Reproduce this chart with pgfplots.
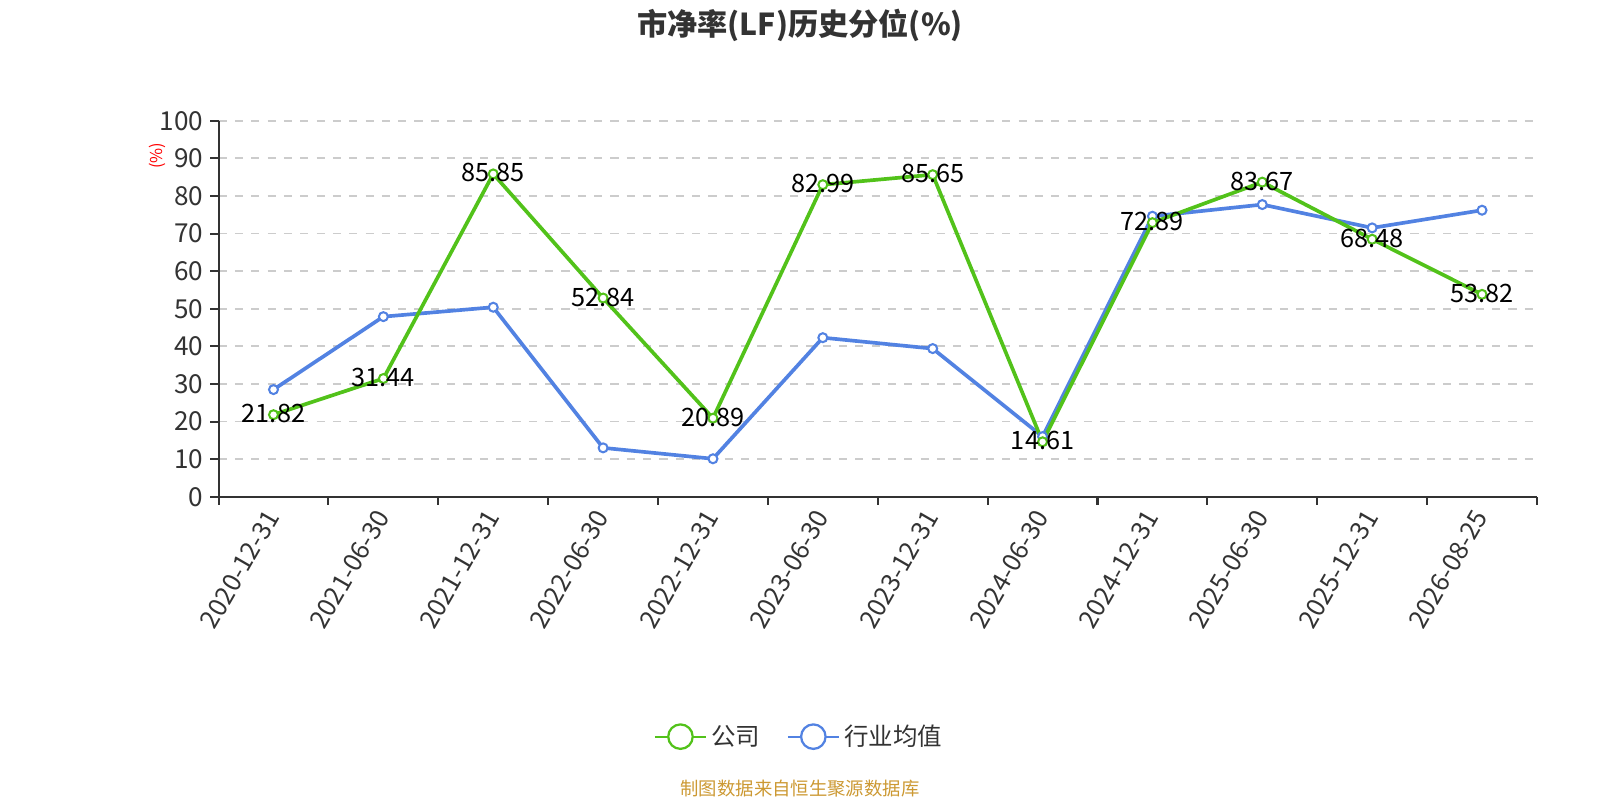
\documentclass[border=0pt]{standalone}
\usepackage{fontspec}
\setmainfont{Noto Sans CJK SC}
\usepackage{pgfplots}
\pgfplotsset{compat=1.18}
\definecolor{cgreen}{RGB}{82,194,26}
\definecolor{cblue}{RGB}{82,130,226}
\definecolor{ctext}{RGB}{51,51,51}
\definecolor{cgrid}{RGB}{204,204,204}
\definecolor{csrc}{RGB}{204,153,51}
\begin{document}
\begin{tikzpicture}[x=1pt,y=1pt]
\useasboundingbox (0,0) rectangle (784,392);
\begin{axis}[
  at={(107.1pt,148.6pt)}, anchor=south west,
  scale only axis, width=646pt, height=184.25pt,
  xmin=-0.5, xmax=11.5, ymin=0, ymax=100,
  axis lines=left,
  axis line style={-, ctext, line width=1pt},
  tick align=outside,
  xtick={0,...,11},
  xticklabels={2020-12-31,2021-06-30,2021-12-31,2022-06-30,2022-12-31,2023-06-30,2023-12-31,2024-06-30,2024-12-31,2025-06-30,2025-12-31,2026-08-25},
  major x tick style={draw=none},
  minor xtick={-0.5,0.5,...,11.5},
  minor tick length=4pt,
  minor x tick style={ctext, line width=1pt},
  ytick={0,10,...,100},
  major tick length=4pt,
  y tick style={ctext, line width=1pt},
  ymajorgrids=true,
  grid style={cgrid, dash pattern=on 4pt off 4pt, line width=0.9pt},
  /pgf/number format/assume math mode=true,
  xticklabel style={rotate=60, anchor=east, yshift=-1.5pt, font=\fontsize{12.5}{12.5}\selectfont, text=ctext},
  yticklabel style={font=\fontsize{12.8}{12.8}\selectfont, text=ctext},
  ylabel={(\%)},
  ylabel style={at={(axis description cs:-0.0464,0.907)}, anchor=center, text=red, font=\fontsize{8}{8}\selectfont},
  legend style={at={(axis description cs:0.441,-0.638)}, anchor=center, draw=none, fill=none,
    font=\fontsize{12}{12}\selectfont, text=ctext,
    /tikz/every even column/.append style={column sep=11pt}},
  legend columns=2,
  legend image code/.code={\draw[#1,mark=none] (0pt,0pt) -- (25pt,0pt);
     \draw[#1,mark=none,fill=white] (12.5pt,0pt) circle (6pt);},
]
\addlegendimage{cgreen, line width=1.1pt}
\addlegendentry{公司}
\addlegendimage{cblue, line width=1.1pt}
\addlegendentry{行业均值}

\addplot[forget plot, cblue, line width=1.8pt, mark=*, mark size=2.2pt,
  mark options={fill=white, draw=cblue, line width=1pt}]
  coordinates {(0,28.5) (1,47.9) (2,50.4) (3,13.0) (4,10.1) (5,42.3)
   (6,39.4) (7,16.0) (8,74.6) (9,77.7) (10,71.5) (11,76.2)};

\addplot[forget plot, cgreen, line width=1.8pt, mark=*, mark size=2.2pt,
  mark options={fill=white, draw=cgreen, line width=1pt},
  nodes near coords, point meta=explicit symbolic,
  every node near coord/.append style={anchor=center, yshift=0.5pt, text=black, font=\fontsize{12.4}{12.4}\selectfont}]
  coordinates {(0,21.82) [21.82] (1,31.44) [31.44] (2,85.85) [85.85] (3,52.84) [52.84]
   (4,20.89) [20.89] (5,82.99) [82.99] (6,85.65) [85.65] (7,14.61) [14.61]
   (8,72.89) [72.89] (9,83.67) [83.67] (10,68.48) [68.48] (11,53.82) [53.82]};
\end{axis}
\node[font=\bfseries\fontsize{14.8}{14.8}\selectfont, text=ctext] at (392,379.75) {市净率(LF)历史分位(\%)};
\node[font=\fontsize{9}{9}\selectfont, text=csrc] at (392,5.6) {制图数据来自恒生聚源数据库};
\end{tikzpicture}
\end{document}
